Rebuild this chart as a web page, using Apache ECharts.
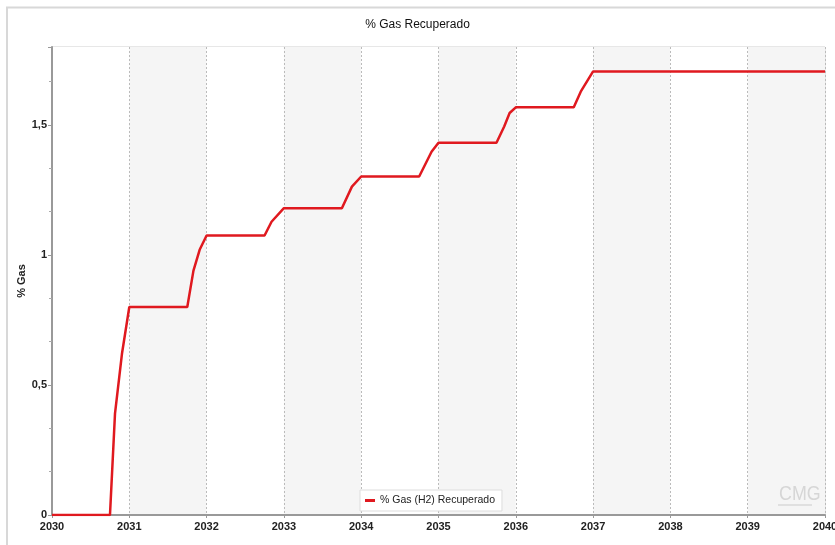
<!DOCTYPE html>
<html>
<head>
<meta charset="utf-8">
<script src="https://cdn.jsdelivr.net/npm/echarts@6/dist/echarts.min.js"></script>
<style>
html,body{margin:0;padding:0;background:#fff;}
#c{width:835px;height:545px;}
</style>
</head>
<body>
<div id="c"></div>
<script>
// Decimal years and recovered gas (%)
const years = [2030, 2030.75, 2030.815, 2030.905, 2031, 2031.75, 2031.83, 2031.91, 2032,
  2032.75, 2032.84, 2033, 2033.75, 2033.88, 2034, 2034.75, 2034.91, 2035,
  2035.75, 2035.85, 2035.92, 2036, 2036.75, 2036.84, 2037, 2040];
const gasRecovered = [0, 0, 0.39, 0.62, 0.80, 0.80, 0.94, 1.02, 1.075,
  1.075, 1.128, 1.18, 1.18, 1.263, 1.302, 1.302, 1.397, 1.432,
  1.432, 1.494, 1.546, 1.568, 1.568, 1.628, 1.706, 1.706];
const seriesName = '% Gas (H2) Recuperado';
const yTicks = [0, 0.5, 1, 1.5];

const chart = echarts.init(document.getElementById('c'), null, {renderer: 'canvas'});
const font = 'Liberation Sans, Arial, sans-serif';
chart.setOption({
  animation: false,
  backgroundColor: '#fff',
  title: {
    text: '% Gas Recuperado', left: 'center', top: 14,
    textStyle: {fontFamily: font, fontSize: 12, fontWeight: 'normal', color: '#111'}
  },
  graphic: [
    {type: 'rect', z: 100, shape: {x: 7, y: 7.5, width: 840, height: 560},
     style: {fill: 'none', stroke: '#d8d8d8', lineWidth: 2}, silent: true},
    {type: 'text', z: 100, left: 779, top: 484, scaleX: 0.85,
     style: {text: 'CMG', fontFamily: font, fontSize: 21, fill: '#d6d6d6'}, silent: true},
    {type: 'line', z: 100, shape: {x1: 778, y1: 505, x2: 812, y2: 505},
     style: {stroke: '#e0e0e0', lineWidth: 2}, silent: true}
  ],
  legend: {
    data: [{name: seriesName, icon: 'rect'}],
    left: 360, top: 490,
    itemWidth: 10, itemHeight: 3, itemGap: 5,
    padding: [5, 7, 5, 5],
    backgroundColor: '#fff', borderColor: '#ddd', borderWidth: 1,
    textStyle: {fontFamily: font, fontSize: 10.5, color: '#222'}
  },
  grid: {left: 52, right: 10, top: 47, bottom: 30, show: true, borderColor: '#cfcfcf', borderWidth: 1,
    containLabel: false, outerBoundsMode: 'none'},
  xAxis: {
    type: 'value', min: 2030, max: 2040, interval: 1,
    axisLine: {show: true, lineStyle: {color: '#999', width: 2}},
    axisTick: {show: true, length: 3, lineStyle: {color: '#999'}},
    axisLabel: {fontFamily: font, fontSize: 11, fontWeight: 'bold', color: '#222', margin: 6,
      formatter: v => String(v)},
    splitLine: {show: true, lineStyle: {color: '#bbb', type: [2, 2], width: 1}},
    splitArea: {show: true, areaStyle: {color: ['#ffffff', '#f5f5f5']}}
  },
  yAxis: {
    type: 'value', min: 0, max: 1.8, interval: 0.5,
    name: '% Gas', nameLocation: 'middle', nameGap: 25, nameMoveOverlap: false,
    nameTextStyle: {fontFamily: font, fontSize: 11, fontWeight: 'bold', color: '#222'},
    axisLine: {show: true, lineStyle: {color: '#999', width: 2}},
    axisTick: {show: true, length: 4, lineStyle: {color: '#999'}},
    minorTick: {show: true, splitNumber: 3, length: 3, lineStyle: {color: '#aaa'}},
    axisLabel: {fontFamily: font, fontSize: 11, fontWeight: 'bold', color: '#222', margin: 5,
      formatter: v => yTicks.includes(v) ? String(v).replace('.', ',') : ''},
    splitLine: {show: true, lineStyle: {color: '#bbb', type: [2, 2], width: 1}}
  },
  series: [{
    name: seriesName, type: 'line', showSymbol: false,
    data: years.map((y, i) => [y, gasRecovered[i]]),
    lineStyle: {color: '#e0191f', width: 2.5},
    itemStyle: {color: '#e0191f'}
  }]
});
</script>
</body>
</html>
